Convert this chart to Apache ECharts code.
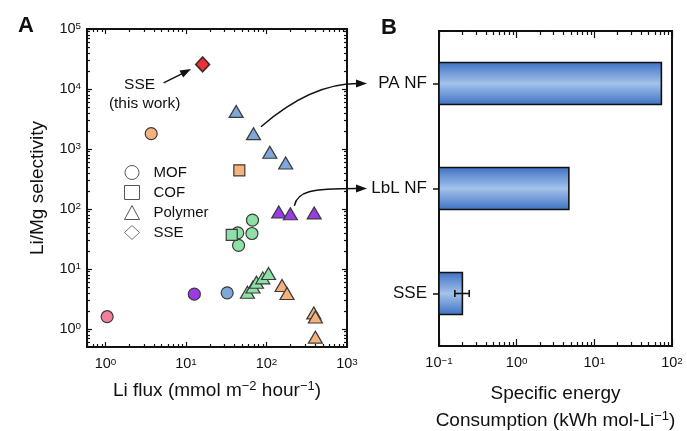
<!DOCTYPE html>
<html>
<head>
<meta charset="utf-8">
<script src="https://cdn.jsdelivr.net/npm/echarts@6/dist/echarts.min.js"></script>
<style>
html, body { margin: 0; padding: 0; background: #fff; }
#main { width: 687px; height: 431px; }
</style>
</head>
<body>
<div id="main"></div>
<script>
// ---- panel A data (Li flux, Li/Mg selectivity) ----
var groupColors = ['#f7b27c', '#f07f9c', '#9b3be6', '#7ea7da', '#8fdfa8', '#e00000'];

var mofFlux  = [3.7, 1.05, 12.7, 32.5, 44, 45, 66, 67];
var mofSel   = [1800, 1.6, 3.8, 4.0, 40, 24.7, 39, 65];
var mofGroup = [0, 1, 2, 3, 4, 4, 4, 4];

var cofFlux  = [46, 37];
var cofSel   = [440, 37];
var cofGroup = [0, 4];

var polyFlux  = [42, 69, 110, 173, 142, 198, 391, 58, 68, 75, 90, 106, 156, 180, 387, 405, 405];
var polySel   = [4230, 1800, 880, 584, 89, 83, 86, 4.1, 5.0, 6.0, 7.1, 8.4, 5.3, 3.9, 1.85, 1.58, 0.73];
var polyGroup = [3, 3, 3, 3, 2, 2, 2, 4, 4, 4, 4, 4, 0, 0, 0, 0, 0];

var sseFlux = [16.1];
var sseSel  = [25700];
var sseGroup = [5];

var fluxTicks  = [1, 10, 100, 1000];
var fluxMinor  = [0.6, 0.7, 0.8, 0.9, 2, 3, 4, 5, 6, 7, 8, 9, 20, 30, 40, 50, 60, 70, 80, 90,
                  200, 300, 400, 500, 600, 700, 800, 900];
var selTicks   = [1, 10, 100, 1000, 10000, 100000];
var selMinor   = [0.6, 0.7, 0.8, 0.9, 2, 3, 4, 5, 6, 7, 8, 9, 20, 30, 40, 50, 60, 70, 80, 90,
                  200, 300, 400, 500, 600, 700, 800, 900, 2000, 3000, 4000, 5000, 6000, 7000, 8000, 9000,
                  20000, 30000, 40000, 50000, 60000, 70000, 80000, 90000];

// ---- panel B data (specific energy consumption) ----
var methods     = ['SSE', 'LbL NF', 'PA NF'];
var energy      = [0.2, 4.7, 73];
var energyLow   = [0.16, null, null];
var energyHigh  = [0.245, null, null];
var energyTicks = [0.1, 1, 10, 100];
var energyMinor = [0.2, 0.3, 0.4, 0.5, 0.6, 0.7, 0.8, 0.9, 2, 3, 4, 5, 6, 7, 8, 9,
                   20, 30, 40, 50, 60, 70, 80, 90];

var FONT = '"Liberation Sans", Arial, sans-serif';
var INK = '#111';

var chart = echarts.init(document.getElementById('main'));

function pow10Label(v) {
    var e = Math.round(Math.log10(v));
    return '{b|10}{s|' + (e < 0 ? '\u2212' + (-e) : e) + '}';
}
function tickRich(size) {
    return {
        b: { fontSize: size, lineHeight: size, verticalAlign: 'bottom', fontFamily: FONT, color: INK },
        s: { fontSize: size * 0.68, lineHeight: size * 0.68, padding: [0, 0, 7, 0], verticalAlign: 'top', fontFamily: FONT, color: INK }
    };
}
// base text centred on its line, superscript pulled to the top of the line
function nameRich(lineH, supPad) {
    return {
        n: { fontSize: 19, lineHeight: lineH, fontFamily: FONT, color: INK },
        s: { fontSize: 13, lineHeight: 13, padding: [supPad, 0, 0, 0], verticalAlign: 'top', fontFamily: FONT, color: INK }
    };
}

function logAxis(grid, pos, min, max, ticks, len, withLabel) {
    return {
        type: 'log', gridIndex: grid, position: pos, min: min, max: max,
        axisLine: { show: false },
        splitLine: { show: false },
        axisTick: { show: true, inside: true, length: len, customValues: ticks, lineStyle: { color: INK, width: 1.2 } },
        axisLabel: withLabel ? { show: true, customValues: ticks, formatter: pow10Label, rich: tickRich(14.5), margin: 10 } : { show: false }
    };
}

function toPoints(xs, ys, groups) {
    return xs.map(function (x, i) {
        return { value: [x, ys[i]], itemStyle: { color: groupColors[groups[i]] } };
    });
}

var markerStyle = { borderColor: '#3a3a3a', borderWidth: 1.2, opacity: 1 };
var legendIcon = { color: '#fff', borderColor: '#555', borderWidth: 1 };

var xA = logAxis(0, 'bottom', 0.59, 1000, fluxTicks, 5, true);
xA.name = '{n|Li flux (mmol m}{s|\u22122}{n| hour}{s|\u22121}{n|)}';
xA.nameLocation = 'middle';
xA.nameGap = 31;
xA.nameTextStyle = { rich: nameRich(24, 1) };

var yA = logAxis(0, 'left', 0.5, 100000, selTicks, 5, true);
yA.axisLabel.margin = 6;
yA.name = 'Li/Mg selectivity';
yA.nameLocation = 'middle';
yA.nameGap = 40;
yA.nameTextStyle = { fontSize: 19, fontFamily: FONT, color: INK };

var xB = logAxis(1, 'bottom', 0.1, 100, energyTicks, 7, true);
xB.name = '{n|Specific energy}\n{n|Consumption (kWh mol-Li}{s|\u22121}{n|)}';
xB.nameLocation = 'middle';
xB.nameGap = 34;
xB.nameTextStyle = { rich: nameRich(27, 3) };

var option = {
    animation: false,
    backgroundColor: '#fff',
    textStyle: { fontFamily: FONT, color: INK },
    grid: [
        { left: 87, top: 29, width: 260, height: 318, show: true, borderColor: INK, borderWidth: 2, backgroundColor: 'transparent', containLabel: false, outerBoundsMode: 'none' },
        { left: 439, top: 31, width: 233, height: 315, show: true, borderColor: INK, borderWidth: 2, backgroundColor: 'transparent', containLabel: false, outerBoundsMode: 'none' }
    ],
    title: [
        { text: 'A', left: 13, top: 10, textStyle: { fontSize: 22, fontWeight: 'bold', fontFamily: FONT, color: INK } },
        { text: 'B', left: 376, top: 12, textStyle: { fontSize: 22, fontWeight: 'bold', fontFamily: FONT, color: INK } }
    ],
    legend: {
        orient: 'vertical', left: 119, top: 160, itemWidth: 15, itemHeight: 14, itemGap: 5,
        selectedMode: false,
        textStyle: { fontSize: 15, fontFamily: FONT, color: INK, padding: [0, 0, 0, 9] },
        data: [
            { name: 'MOF', icon: 'circle', itemStyle: legendIcon },
            { name: 'COF', icon: 'rect', itemStyle: legendIcon },
            { name: 'Polymer', icon: 'triangle', itemStyle: legendIcon },
            { name: 'SSE', icon: 'diamond', itemStyle: legendIcon }
        ]
    },
    xAxis: [
        xA,
        logAxis(0, 'bottom', 0.59, 1000, fluxMinor, 3, false),
        logAxis(0, 'top', 0.59, 1000, fluxTicks, 5, false),
        logAxis(0, 'top', 0.59, 1000, fluxMinor, 3, false),
        xB,
        logAxis(1, 'bottom', 0.1, 100, energyMinor, 4, false),
        logAxis(1, 'top', 0.1, 100, energyTicks, 7, false),
        logAxis(1, 'top', 0.1, 100, energyMinor, 4, false)
    ],
    yAxis: [
        yA,
        logAxis(0, 'left', 0.5, 100000, selMinor, 3, false),
        logAxis(0, 'right', 0.5, 100000, selTicks, 5, false),
        logAxis(0, 'right', 0.5, 100000, selMinor, 3, false),
        {
            type: 'category', gridIndex: 1, position: 'left', data: methods,
            axisLine: { show: false },
            axisTick: { show: true, inside: false, alignWithLabel: true, length: 6, lineStyle: { color: INK, width: 1.5 } },
            axisLabel: { fontSize: 17, fontFamily: FONT, color: INK, margin: 12 },
            splitLine: { show: false }
        }
    ],
    series: [
        { name: 'MOF', type: 'scatter', xAxisIndex: 0, yAxisIndex: 0, symbol: 'circle', symbolSize: 12,
          itemStyle: markerStyle, data: toPoints(mofFlux, mofSel, mofGroup), z: 3 },
        { name: 'COF', type: 'scatter', xAxisIndex: 0, yAxisIndex: 0, symbol: 'rect', symbolSize: 11,
          itemStyle: markerStyle, data: toPoints(cofFlux, cofSel, cofGroup), z: 4 },
        { name: 'Polymer', type: 'scatter', xAxisIndex: 0, yAxisIndex: 0, symbol: 'triangle', symbolSize: [14, 12],
          itemStyle: markerStyle, data: toPoints(polyFlux, polySel, polyGroup), z: 3 },
        { name: 'SSE', type: 'scatter', xAxisIndex: 0, yAxisIndex: 0, symbol: 'diamond', symbolSize: [14, 15],
          itemStyle: { borderColor: INK, borderWidth: 1.5 }, data: toPoints(sseFlux, sseSel, sseGroup), z: 5 },
        {
            type: 'custom', xAxisIndex: 4, yAxisIndex: 4,
            data: energy.map(function (v, i) { return [v, i]; }),
            renderItem: function (params, api) {
                var yi = api.value(1);
                var a = api.coord([0.1, yi]);
                var b = api.coord([api.value(0), yi]);
                var h = api.size([0, 1])[1] * 0.4;
                return {
                    type: 'rect',
                    shape: { x: a[0], y: a[1] - h / 2, width: b[0] - a[0], height: h },
                    style: {
                        fill: new echarts.graphic.LinearGradient(0, 0, 0, 1, [
                            { offset: 0, color: '#3c70c4' },
                            { offset: 0.5, color: '#a4c2ea' },
                            { offset: 1, color: '#3c70c4' }
                        ]),
                        stroke: INK, lineWidth: 1.6
                    }
                };
            },
            z: 3
        },
        {
            type: 'custom', xAxisIndex: 4, yAxisIndex: 4,
            data: energy.map(function (v, i) { return [energyLow[i], energyHigh[i], i]; })
                .filter(function (d) { return d[0] != null; }),
            renderItem: function (params, api) {
                var yi = api.value(2);
                var lo = api.coord([api.value(0), yi]);
                var hi = api.coord([api.value(1), yi]);
                var cap = 3.5;
                var st = { stroke: INK, lineWidth: 1.6 };
                return {
                    type: 'group',
                    children: [
                        { type: 'line', shape: { x1: lo[0], y1: lo[1], x2: hi[0], y2: hi[1] }, style: st },
                        { type: 'line', shape: { x1: lo[0], y1: lo[1] - cap, x2: lo[0], y2: lo[1] + cap }, style: st },
                        { type: 'line', shape: { x1: hi[0], y1: hi[1] - cap, x2: hi[0], y2: hi[1] + cap }, style: st }
                    ]
                };
            },
            z: 4
        }
    ]
};

chart.setOption(option);

// ---- annotations: labels and arrows ----
function arrowHead(tip, ang) {
    var L = 11, W = 4;
    var bx = tip[0] - L * Math.cos(ang), by = tip[1] - L * Math.sin(ang);
    var nx = -Math.sin(ang) * W, ny = Math.cos(ang) * W;
    return { type: 'polygon', z: 100, shape: { points: [tip, [bx + nx, by + ny], [bx - nx, by - ny]] }, style: { fill: INK } };
}

var pSSE = chart.convertToPixel({ xAxisIndex: 0, yAxisIndex: 0 }, [sseFlux[0], sseSel[0]]);
var pBlue = chart.convertToPixel({ xAxisIndex: 0, yAxisIndex: 0 }, [polyFlux[1], polySel[1]]);
var pPurple = chart.convertToPixel({ xAxisIndex: 0, yAxisIndex: 0 }, [polyFlux[5], polySel[5]]);
var yPA = chart.convertToPixel({ yAxisIndex: 4 }, 'PA NF');
var yLbL = chart.convertToPixel({ yAxisIndex: 4 }, 'LbL NF');

var tailS = [pSSE[0] - 39, pSSE[1] + 18.6];
var tipS = [pSSE[0] - 11.5, pSSE[1] + 4.6];
var angS = Math.atan2(tipS[1] - tailS[1], tipS[0] - tailS[0]);

var tipX = 367;
var t1 = [pBlue[0] + 7.5, pBlue[1] - 7];
var t2 = [pPurple[0] + 4, pPurple[1] - 8];

chart.setOption({
    graphic: [
        { type: 'text', z: 100, style: { text: 'SSE', x: pSSE[0] - 63, y: pSSE[1] + 20, align: 'center', verticalAlign: 'middle', fontSize: 15.5, fontFamily: FONT, fill: INK } },
        { type: 'text', z: 100, style: { text: '(this work)', x: pSSE[0] - 58, y: pSSE[1] + 39, align: 'center', verticalAlign: 'middle', fontSize: 15.5, fontFamily: FONT, fill: INK } },
        { type: 'line', z: 100, shape: { x1: tailS[0], y1: tailS[1], x2: tipS[0] - 10 * Math.cos(angS), y2: tipS[1] - 10 * Math.sin(angS) }, style: { stroke: INK, lineWidth: 1.4 } },
        arrowHead(tipS, angS),
        { type: 'bezierCurve', z: 100, shape: { x1: t1[0], y1: t1[1], cpx1: 311, cpy1: yPA, x2: tipX - 10, y2: yPA }, style: { stroke: INK, lineWidth: 1.4, fill: null } },
        arrowHead([tipX, yPA], 0),
        { type: 'bezierCurve', z: 100, shape: { x1: t2[0], y1: t2[1], cpx1: t2[0] + 3, cpy1: yLbL + 3, cpx2: 310, cpy2: yLbL, x2: tipX - 10, y2: yLbL }, style: { stroke: INK, lineWidth: 1.4, fill: null } },
        arrowHead([tipX, yLbL], 0)
    ]
});
</script>
</body>
</html>
